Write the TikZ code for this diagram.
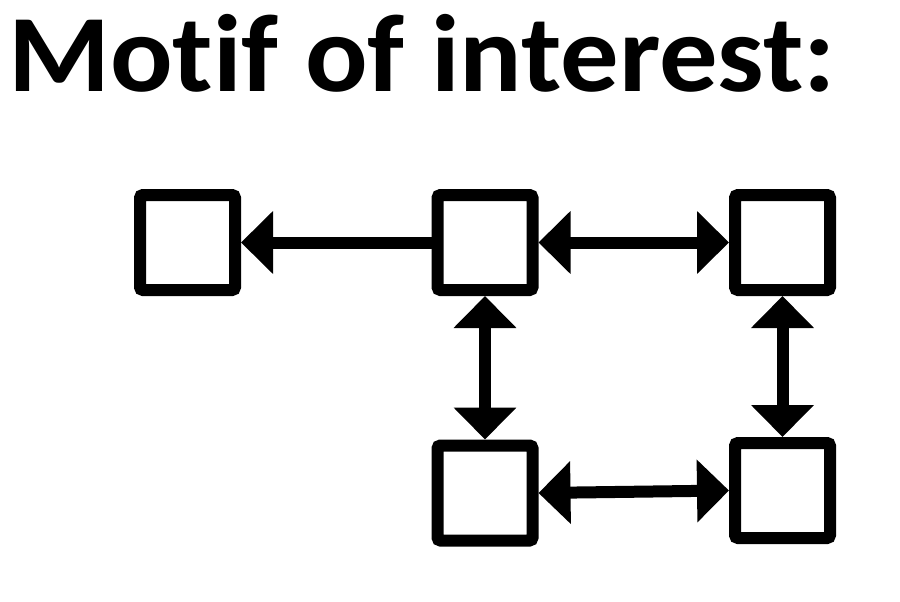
\documentclass[tikz,border=0pt]{standalone}
\usepackage{fontspec}
\setmainfont[Ligatures=NoCommon]{Carlito}
\usetikzlibrary{arrows.meta}
\tikzset{bigtri/.tip={Triangle[length=32pt,width=61pt]}}
\begin{document}
\begin{tikzpicture}[x=1pt,y=-1pt,
  box/.style={draw=black,line width=12pt,rounded corners=3pt,minimum size=95pt,inner sep=0pt,fill=white},
  conn/.style={line width=12pt,draw=black}]
\useasboundingbox (0,0) rectangle (900,602);
\node[anchor=base west,inner sep=0pt,font=\bfseries\fontsize{110}{110}\selectfont] (title) at (8,92) {\addfontfeatures{FakeStretch=1.06}Motif of interest:};
\node[box] (a) at (187.5,242.5) {};
\node[box] (b) at (485,242.5) {};
\node[box] (c) at (782.5,242.5) {};
\node[box] (d) at (485,493) {};
\node[box] (e) at (782.5,490.5) {};
\draw[conn,-bigtri] (b.west) -- (a.east);
\draw[conn,bigtri-bigtri] (b.east) -- (c.west);
\draw[conn,bigtri-bigtri] (b.south) -- (d.north);
\draw[conn,bigtri-bigtri] (c.south) -- (e.north);
\draw[conn,bigtri-bigtri] (d.east) -- (e.west);
\end{tikzpicture}
\end{document}
